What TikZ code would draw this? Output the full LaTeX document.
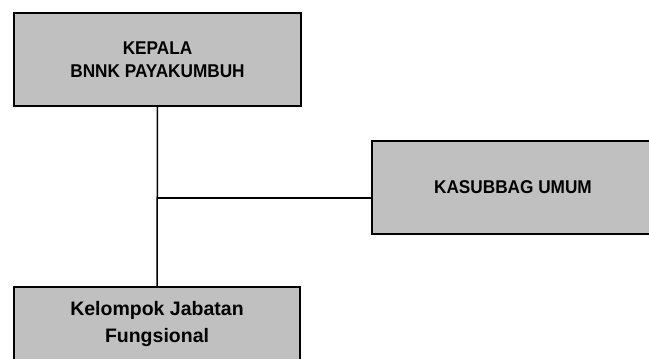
\documentclass[tikz,border=0pt]{standalone}
\usepackage{fontspec}
\setmainfont{Liberation Sans}
\newfontfamily\capsfont[FakeStretch=0.93]{Liberation Sans}
\usetikzlibrary{positioning}
\definecolor{boxGray}{RGB}{192,192,192}

\begin{document}
\begin{tikzpicture}[x=1pt, y=-1pt,
    unit/.style={rectangle, draw=black, fill=boxGray, line width=1.5pt,
                 inner sep=0pt, align=center, font=\bfseries},
    link/.style={line width=1.5pt, black}
  ]
  \useasboundingbox (0,0) rectangle (649,359);

  % Boxes
  \node[unit, minimum width=287pt, minimum height=93pt,
        font=\capsfont\bfseries\fontsize{18.5}{23.5}\selectfont] (kepala) at (157.5,59.5)
        {KEPALA\\BNNK PAYAKUMBUH};
  \node[unit, minimum width=282pt, minimum height=93pt,
        font=\capsfont\bfseries\fontsize{18.5}{23.5}\selectfont] (kasubbag) at (513,187.5)
        {KASUBBAG UMUM};
  \node[unit, minimum width=286pt, minimum height=73pt,
        font=\bfseries\fontsize{19.5}{27}\selectfont] (kelompok) at (157,323.5)
        {Kelompok Jabatan\\Fungsional};

  % Lines
  \coordinate (junc) at (157,198);
  \draw[link] (kepala.south) -- (kelompok.north);
  \draw[link] (junc) -- (junc -| kasubbag.west);
\end{tikzpicture}
\end{document}
